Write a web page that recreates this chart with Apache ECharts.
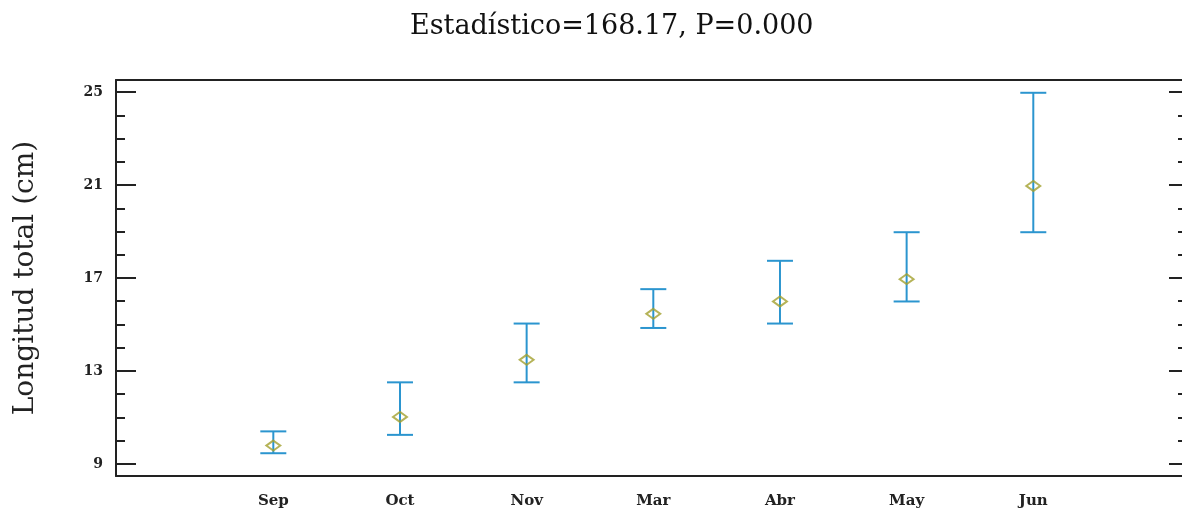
<!DOCTYPE html>
<html>
<head>
<meta charset="utf-8">
<script src="https://cdn.jsdelivr.net/npm/echarts@6/dist/echarts.min.js"></script>
<style>html,body{margin:0;padding:0;background:#fff}#c{width:1182px;height:510px}</style>
</head>
<body>
<div id="c"></div>
<script>
var categories = ['Sep', 'Oct', 'Nov', 'Mar', 'Abr', 'May', 'Jun'];
var means = [9.79, 11.02, 13.48, 15.46, 15.99, 16.95, 20.96];
var lowers = [9.46, 10.25, 12.51, 14.85, 15.04, 15.99, 18.97];
var uppers = [10.40, 12.51, 15.04, 16.52, 17.74, 18.97, 24.97];
var majorTicks = [9, 13, 17, 21, 25];
var minorTicks = [10, 11, 12, 14, 15, 16, 18, 19, 20, 22, 23, 24];
var titleText = 'Estadístico=168.17, P=0.000';
var yName = 'Longitud total (cm)';

var catIdx = categories.map(function (c, i) { return i; });
var errData = catIdx.map(function (i) { return [i, lowers[i], uppers[i]]; });
var meanData = catIdx.map(function (i) { return [i, means[i]]; });

var serif = '"DejaVu Serif", serif';
var yMin = 8.48, yMax = 25.52;
var xMin = -1.242, xMax = 7.174;

function yAx(pos, ticks, len, labels, line) {
  return {
    type: 'value', position: pos, offset: 0, min: yMin, max: yMax,
    name: labels ? yName : '', nameLocation: 'middle', nameGap: 76,
    nameTextStyle: { fontFamily: serif, fontSize: 28, color: '#222' },
    splitLine: { show: false },
    axisLine: { show: line, onZero: false, lineStyle: { color: '#222', width: 2 } },
    axisTick: { show: true, inside: true, length: len, customValues: ticks, lineStyle: { color: '#222', width: 2 } },
    axisLabel: labels ? { show: true, customValues: majorTicks, margin: 13, fontFamily: serif, fontWeight: 'bold', fontSize: 14, color: '#222' } : { show: false }
  };
}

var chart = echarts.init(document.getElementById('c'));
chart.setOption({
  animation: false,
  title: { text: titleText, left: 405, top: 8, textStyle: { fontFamily: serif, fontWeight: 'normal', fontSize: 27, color: '#111' } },
  grid: { left: 116, top: 80, right: 0, height: 396, containLabel: false },
  xAxis: [
    { type: 'value', position: 'bottom', min: xMin, max: xMax,
      splitLine: { show: false },
      axisLine: { show: true, onZero: false, lineStyle: { color: '#222', width: 2 } },
      axisTick: { show: false },
      axisLabel: { show: true, customValues: catIdx, margin: 18, fontFamily: serif, fontWeight: 'bold', fontSize: 15, color: '#222',
        formatter: function (v) { return categories[Math.round(v)] || ''; } } },
    { type: 'value', position: 'top', min: xMin, max: xMax,
      splitLine: { show: false },
      axisLine: { show: true, onZero: false, lineStyle: { color: '#222', width: 2 } },
      axisTick: { show: false }, axisLabel: { show: false } }
  ],
  yAxis: [
    yAx('left', majorTicks, 20, true, true),
    yAx('left', minorTicks, 9, false, false),
    yAx('right', majorTicks, 13, false, false),
    yAx('right', minorTicks, 4, false, false)
  ],
  series: [
    { type: 'custom', xAxisIndex: 0, yAxisIndex: 0, data: errData,
      renderItem: function (params, api) {
        var x = api.value(0);
        var lo = api.coord([x, api.value(1)]);
        var hi = api.coord([x, api.value(2)]);
        var hw = 13;
        var st = { stroke: '#2b95cf', lineWidth: 2 };
        return { type: 'group', children: [
          { type: 'line', shape: { x1: hi[0], y1: hi[1], x2: lo[0], y2: lo[1] }, style: st },
          { type: 'line', shape: { x1: hi[0] - hw, y1: hi[1], x2: hi[0] + hw, y2: hi[1] }, style: st },
          { type: 'line', shape: { x1: lo[0] - hw, y1: lo[1], x2: lo[0] + hw, y2: lo[1] }, style: st }
        ] };
      } },
    { type: 'scatter', xAxisIndex: 0, yAxisIndex: 0, data: meanData,
      symbol: 'diamond', symbolSize: [14, 10],
      itemStyle: { color: 'rgba(255,255,255,0)', borderColor: '#a3a02e', borderWidth: 2 } }
  ]
});
</script>
</body>
</html>
